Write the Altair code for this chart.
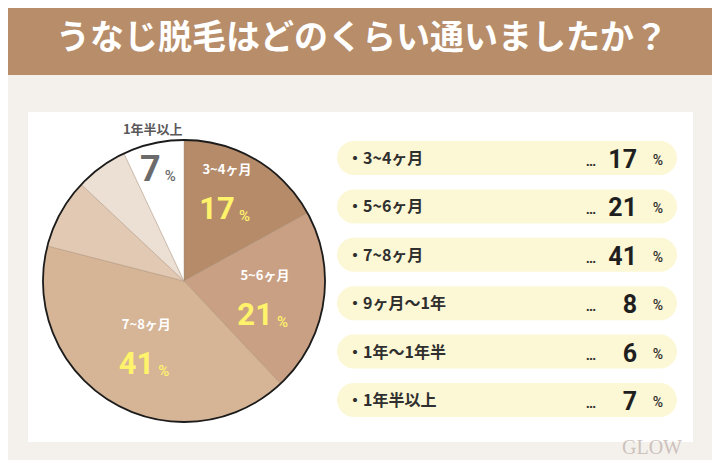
import altair as alt
import pandas as pd

# ---------------- data ----------------
TITLE = "うなじ脱毛はどのくらい通いましたか？"
categories = ["3~4ヶ月", "5~6ヶ月", "7~8ヶ月", "9ヶ月〜1年", "1年〜1年半", "1年半以上"]
percents = [17, 21, 41, 8, 6, 7]
slice_colors = ["#b58b6a", "#c9a083", "#d6b597", "#e2c9b3", "#ece0d5", "#ffffff"]
LOGO = "GLOW"

df = pd.DataFrame({"category": categories, "value": percents, "order": list(range(len(categories)))})

# ---------------- style ----------------
W, H = 704, 452
CX, CY, R = 176, 273, 141
JP = "Noto Sans CJK JP"
NUM_FONT = "'Liberation Sans Narrow', Roboto, sans-serif"
BANNER = "#b78d6a"
DARK = "#2f2f2f"

one = alt.Data(values=[{}])

banner = alt.Chart(one).mark_rect(color=BANNER).encode(
    x=alt.value(0), x2=alt.value(W), y=alt.value(0), y2=alt.value(67))
title = alt.Chart(one).mark_text(
    text=TITLE, font=JP, fontSize=34, fontWeight="bold", color="white",
    align="center", baseline="middle").encode(x=alt.value(354), y=alt.value(31))
card = alt.Chart(one).mark_rect(color="white").encode(
    x=alt.value(20), x2=alt.value(685), y=alt.value(104), y2=alt.value(434))
logo = alt.Chart(one).mark_text(
    text=LOGO, font="Liberation Serif", fontSize=20, color="#cdc2bc",
    align="center", baseline="bottom").encode(x=alt.value(644), y=alt.value(450))

theta_scale = alt.Scale(domain=[0, 100])

base = alt.Chart(df).transform_window(
    cum="sum(value)", sort=[alt.SortField("order")], frame=[None, 0]
).transform_calculate(
    start="datum.cum - datum.value", mid="datum.cum - datum.value / 2"
)

pie = base.mark_arc(outerRadius=R, stroke="#a68b74", strokeWidth=0.6, strokeOpacity=0.7).encode(
    theta=alt.Theta("start:Q", scale=theta_scale, stack=False),
    theta2="cum:Q",
    color=alt.Color("category:N", scale=alt.Scale(domain=categories, range=slice_colors), legend=None),
    order=alt.Order("order:Q"),
    x=alt.value(CX), y=alt.value(CY),
)

ring = alt.Chart(df).transform_aggregate(total="sum(value)").transform_calculate(zero="0").mark_arc(
    outerRadius=R, fillOpacity=0, stroke="#1c1c1c", strokeWidth=1.8
).encode(
    theta=alt.Theta("zero:Q", scale=theta_scale, stack=False), theta2="total:Q",
    x=alt.value(CX), y=alt.value(CY),
)


def pie_label(cat, r, tx, ty, name_color, num_color, num_size):
    b = base.transform_filter(alt.datum.category == cat)
    th = alt.Theta("mid:Q", scale=theta_scale, stack=False)
    pos = dict(x=alt.value(CX), y=alt.value(CY))
    name = b.mark_text(radius=r, dx=tx - 5, dy=ty - 20, font=JP, fontSize=13, fontWeight="bold",
                       color=name_color, align="center", baseline="middle").encode(
        theta=th, text="category:N", **pos)
    num = b.mark_text(radius=r, dx=tx + 3, dy=ty + 20, font=NUM_FONT, fontSize=num_size, fontWeight="bold",
                      color=num_color, align="right", baseline="middle").encode(
        theta=th, text="value:Q", **pos)
    pct = b.mark_text(radius=r, dx=tx + 7, dy=ty + 26, font="Roboto", fontSize=15, fontWeight=500,
                      color=num_color, align="left", baseline="middle", text="%").encode(
        theta=th, **pos)
    return [name, num, pct]


labels = []
labels += pie_label("3~4ヶ月", 100, -3, -5, "white", "#fff36b", 31)
labels += pie_label("5~6ヶ月", 87, 0, 1, "white", "#fff36b", 31)
labels += pie_label("7~8ヶ月", 74, 5, 0, "white", "#fff36b", 31)
labels += pie_label("1年半以上", 134, 3, 0, "#5a5858", "#6b6b6b", 36)

# ---------------- list on the right ----------------
y_scale = alt.Scale(domain=categories, range=[133, 409], paddingInner=0.2975, paddingOuter=0)
ly = alt.Y("category:N", scale=y_scale, axis=None)

lst = alt.Chart(df).transform_calculate(label="'・' + datum.category")

pills = lst.mark_rect(cornerRadius=17, color="#fcf7d4").encode(
    y=ly, x=alt.value(329), x2=alt.value(669))
names = lst.mark_text(font=JP, fontSize=16, fontWeight="bold", color=DARK, align="left",
                      baseline="middle", dy=1).encode(y=ly, x=alt.value(339), text="label:N")
dots = lst.mark_text(font="Roboto", fontSize=14, fontWeight="bold", color=DARK, align="center",
                     baseline="alphabetic", dy=8, text="…").encode(y=ly, x=alt.value(583))
nums = lst.mark_text(font=NUM_FONT, fontSize=25, fontWeight="bold", color="#1f1f1f", align="right",
                     baseline="alphabetic", dy=10).encode(y=ly, x=alt.value(629), text="value:Q")
pcts = lst.mark_text(font="Roboto", fontSize=14, fontWeight=500, color=DARK, align="center",
                     baseline="alphabetic", dy=7, text="%").encode(y=ly, x=alt.value(650))

chart = alt.layer(
    banner, title, card, logo, pie, ring, *labels, pills, names, dots, nums, pcts
).properties(
    width=W, height=H, autosize=alt.AutoSizeParams(type="none"), padding=0
).configure(background="#f4f1ec").configure_view(stroke=None)

chart.save("out.html", embed_options={"renderer": "svg", "actions": False})
